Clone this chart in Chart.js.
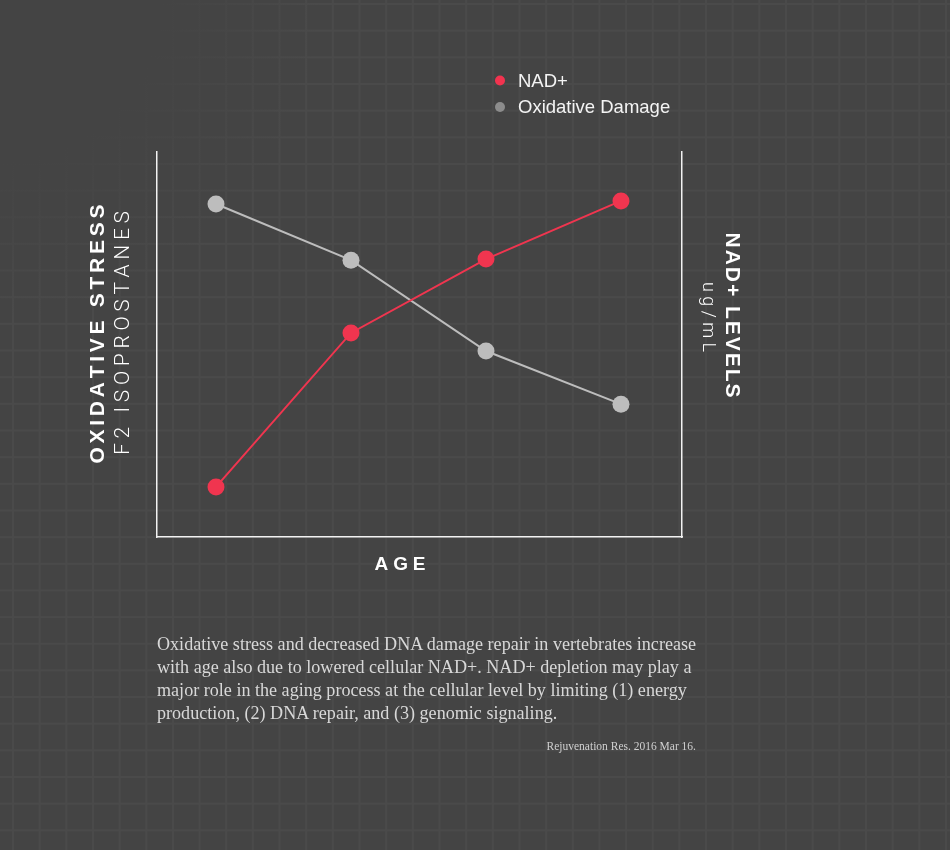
<!DOCTYPE html>
<html>
<head>
<meta charset="utf-8">
<script src="https://cdn.jsdelivr.net/npm/chart.js@4.4.1/dist/chart.umd.min.js"></script>
<style>
  html, body { margin: 0; padding: 0; overflow: hidden; }
  body {
    width: 950px; height: 850px; position: relative;
    background-color: #444444;
    background-image:
      radial-gradient(circle at 0 0, #444444 0, #444444 160px, rgba(68,68,68,0) 320px),
      linear-gradient(#4a4a4a 2px, transparent 2px),
      linear-gradient(90deg, #4a4a4a 2px, transparent 2px);
    background-size: 100% 100%, 26.67px 26.67px, 26.67px 26.67px;
    background-position: 0 0, 0 3px, 12px 0;
  }
  #wrap { position: absolute; left: 0; top: 0; width: 950px; height: 850px; }
  #caption {
    position: absolute; left: 157px; top: 633px; width: 600px;
    font-family: "Liberation Serif", "DejaVu Serif", serif;
    font-size: 18.1px; line-height: 23px; color: #d8d8d8;
  }
  #source {
    position: absolute; left: 400px; top: 740px; width: 296px; text-align: right;
    font-family: "Liberation Serif", serif; font-size: 11.5px; color: #d0d0d0;
  }
</style>
</head>
<body>
<div id="wrap"><canvas id="grafica"></canvas></div>
<div id="caption">Oxidative stress and decreased DNA damage repair in vertebrates increase<br>with age also due to lowered cellular NAD+. NAD+ depletion may play a<br>major role in the aging process at the cellular level by limiting (1) energy<br>production, (2) DNA repair, and (3) genomic signaling.</div>
<div id="source">Rejuvenation Res. 2016 Mar 16.</div>
<script>
// datos (escala 0-100, sin unidades)
var ageSteps = [1, 2, 3, 4];
var nadLevels = [13.0, 53.0, 72.2, 87.3];
var oxidativeDamage = [86.5, 71.9, 48.3, 34.5];
var seriesNames = ['NAD+', 'Oxidative Damage'];
var legendColors = ['#f2334f', '#8c8c8c'];

function toPoints(xs, ys) {
    return xs.map(function (x, i) { return {x: x, y: ys[i]}; });
}

// texto con espaciado entre letras, ajustado a un largo dado
function spacedText(ctx, text, cx, cy, angle, font, length) {
    ctx.save();
    ctx.font = font;
    ctx.translate(cx, cy);
    ctx.rotate(angle);
    var chars = text.split('');
    var widths = chars.map(function (c) { return ctx.measureText(c).width; });
    var total = widths.reduce(function (a, b) { return a + b; }, 0);
    var gap = (length - total) / (chars.length - 1);
    var x = -length / 2;
    ctx.textBaseline = 'middle';
    ctx.textAlign = 'left';
    chars.forEach(function (c, i) {
        ctx.fillText(c, x, 0);
        x += widths[i] + gap;
    });
    ctx.restore();
}

var decoraciones = {
    id: 'decoraciones',
    afterDraw: function (chart) {
        var ctx = chart.ctx;
        ctx.fillStyle = '#ffffff';
        // titulos de los ejes
        spacedText(ctx, 'OXIDATIVE STRESS', 98, 334, -Math.PI / 2, 'bold 21px "Liberation Sans", Arial, sans-serif', 259);
        spacedText(ctx, 'F2 ISOPROSTANES', 124, 333, -Math.PI / 2, '300 21px Roboto, sans-serif', 244);
        spacedText(ctx, 'NAD+ LEVELS', 732, 315, Math.PI / 2, 'bold 21px "Liberation Sans", Arial, sans-serif', 165);
        spacedText(ctx, 'ug/mL', 707, 317, Math.PI / 2, '300 18px Roboto, sans-serif', 70);
        spacedText(ctx, 'AGE', 400, 565, 0, 'bold 19px "Liberation Sans", Arial, sans-serif', 51);

        // leyenda vertical
        ctx.save();
        ctx.font = '18.5px "Liberation Sans", Arial, sans-serif';
        ctx.textBaseline = 'middle';
        seriesNames.forEach(function (name, i) {
            var y = 80.5 + i * 26.5;
            ctx.fillStyle = legendColors[i];
            ctx.beginPath();
            ctx.arc(500, y, 5, 0, Math.PI * 2);
            ctx.fill();
            ctx.fillStyle = '#f4f4f4';
            ctx.fillText(name, 518, y + 1);
        });
        ctx.restore();
    }
};

var ejeOculto = {
    ticks: { display: false },
    grid: { display: false, drawTicks: false, tickLength: 0 },
    border: { display: true, color: '#f2f2f2', width: 1.5 }
};

var gx = document.getElementById('grafica').getContext('2d');
var myChart = new Chart(gx, {
    type: 'line',
    data: {
        datasets: [{
            label: seriesNames[0],
            data: toPoints(ageSteps, nadLevels),
            yAxisID: 'y1',
            borderColor: '#f0354f',
            backgroundColor: '#f0354f',
            borderWidth: 2,
            pointRadius: 8.5,
            pointHoverRadius: 8.5,
            pointBorderWidth: 0
        }, {
            label: seriesNames[1],
            data: toPoints(ageSteps, oxidativeDamage),
            yAxisID: 'y',
            borderColor: '#bdbdbd',
            backgroundColor: '#bdbdbd',
            borderWidth: 2,
            pointRadius: 8.5,
            pointHoverRadius: 8.5,
            pointBorderWidth: 0
        }]
    },
    options: {
        responsive: true,
        maintainAspectRatio: false,
        animation: false,
        layout: { padding: { left: 157, right: 268, top: 152, bottom: 313 } },
        plugins: { legend: { display: false }, tooltip: { enabled: false } },
        scales: {
            x: Object.assign({ type: 'linear', min: 0.563, max: 4.452 }, ejeOculto),
            y: Object.assign({ position: 'left', min: 0, max: 100 }, ejeOculto),
            y1: Object.assign({ position: 'right', min: 0, max: 100 }, ejeOculto)
        }
    },
    plugins: [decoraciones]
});
</script>
</body>
</html>
